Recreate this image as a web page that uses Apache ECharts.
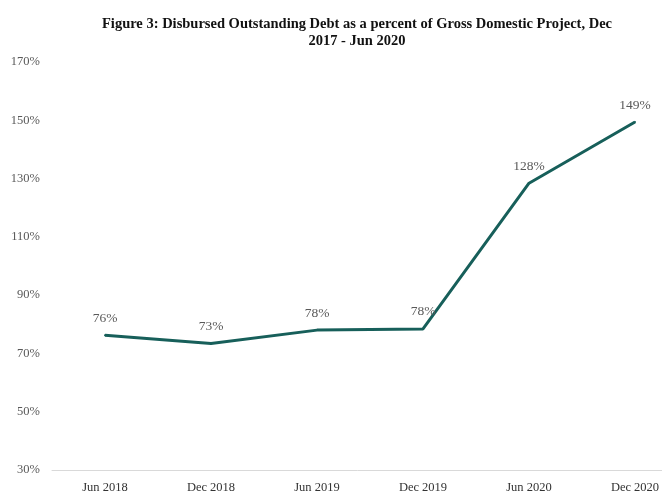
<!DOCTYPE html>
<html>
<head>
<meta charset="utf-8">
<script src="https://cdn.jsdelivr.net/npm/echarts@6/dist/echarts.min.js"></script>
<style>
html,body{margin:0;padding:0;background:#fff;}
#c{width:662px;height:496px;}
</style>
</head>
<body>
<div id="c"></div>
<script>
const titleText = "Figure 3: Disbursed Outstanding Debt as a percent of Gross Domestic Project, Dec\n2017 - Jun 2020";
const categories = ["Jun 2018", "Dec 2018", "Jun 2019", "Dec 2019", "Jun 2020", "Dec 2020"];
const debtPctGdp = [76.2, 73.4, 78.0, 78.4, 128.4, 149.4];
const yTicks = { min: 30, max: 170, interval: 20 };

const font = "'Liberation Serif', 'DejaVu Serif', serif";
const chart = echarts.init(document.getElementById('c'), null, { renderer: 'canvas' });
chart.setOption({
  animation: false,
  backgroundColor: '#ffffff',
  title: {
    text: titleText,
    left: 352,
    textAlign: 'center',
    top: 11,
    textStyle: { fontFamily: font, fontWeight: 'bold', fontSize: 14.5, color: '#111', lineHeight: 17 }
  },
  grid: { left: 52, right: -26, top: 62, bottom: 26, outerBoundsMode: 'none', containLabel: false },
  xAxis: {
    type: 'category',
    data: categories,
    boundaryGap: true,
    axisLine: { show: true, lineStyle: { color: '#d9d9d9', width: 1 } },
    axisTick: { show: false },
    axisLabel: { fontFamily: font, fontSize: 12.5, color: '#333333', margin: 11, interval: 0 },
    splitLine: { show: false }
  },
  yAxis: {
    type: 'value',
    min: yTicks.min, max: yTicks.max, interval: yTicks.interval,
    axisLine: { show: false },
    axisTick: { show: false },
    splitLine: { show: false },
    axisLabel: { fontFamily: font, fontSize: 12.5, color: '#595959', margin: 12, formatter: v => v + '%' }
  },
  series: [{
    type: 'line',
    data: debtPctGdp,
    symbol: 'circle',
    symbolSize: 2,
    showSymbol: true,
    itemStyle: { color: '#175f5a' },
    lineStyle: { color: '#175f5a', width: 3 },
    label: {
      show: true, position: 'top', distance: 9,
      fontFamily: font, fontSize: 13.5, color: '#595959',
      formatter: p => Math.round(p.value) + '%'
    }
  }]
});
</script>
</body>
</html>
